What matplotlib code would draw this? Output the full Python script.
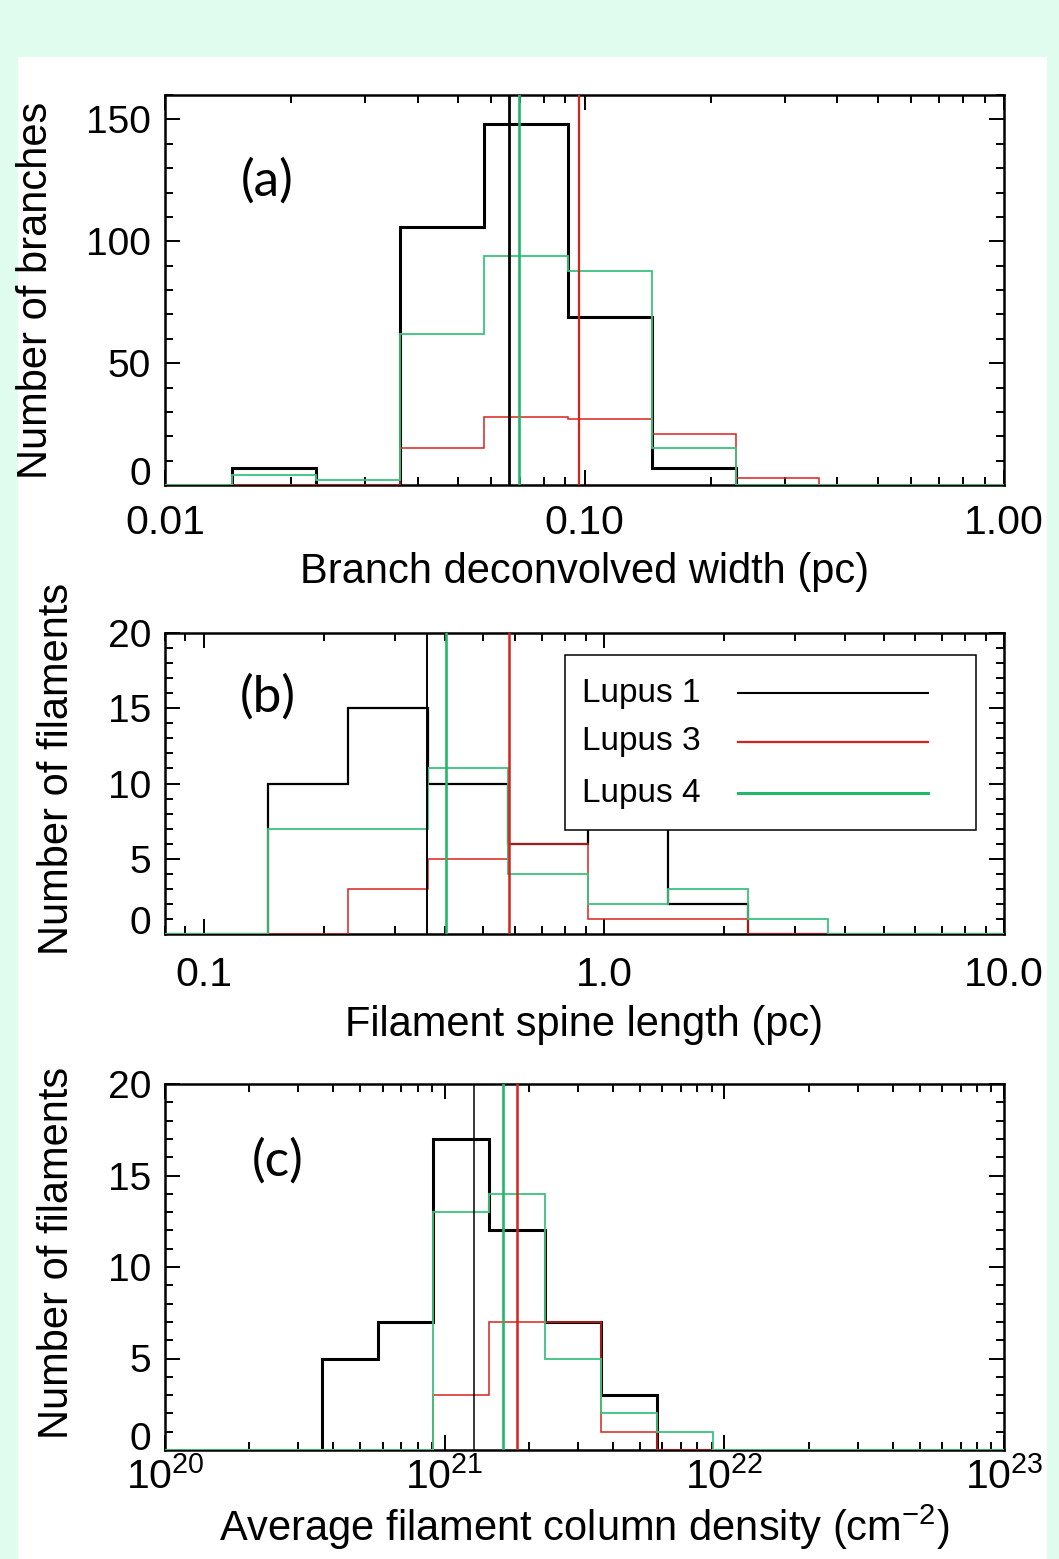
import numpy as np
import matplotlib
matplotlib.use("Agg")
import matplotlib.pyplot as plt
from matplotlib.ticker import FixedLocator, FixedFormatter, LogLocator, NullFormatter, MultipleLocator
from matplotlib.patches import Rectangle

plt.rcParams['font.family'] = ['Liberation Sans', 'DejaVu Sans']
plt.rcParams['mathtext.default'] = 'regular'

# ---------------- data ----------------
series_names = ["Lupus 1", "Lupus 3", "Lupus 4"]

# (a) branch deconvolved width (pc): log10 bin edges and counts
a_edges_log = [-1.84, -1.64, -1.44, -1.24, -1.04, -0.84, -0.64, -0.44]
a_lupus1 = [7, 0, 106, 148, 69, 7, 0]
a_lupus3 = [0, 0, 15, 28, 27, 21, 3]
a_lupus4 = [4, 2, 62, 94, 88, 15, 0]
a_medians = [0.066, 0.097, 0.0697]
a_yticks = [0, 50, 100, 150]

# (b) filament spine length (pc)
b_edges_log = [-0.84, -0.64, -0.44, -0.24, -0.04, 0.16, 0.36, 0.56]
b_lupus1 = [10, 15, 10, 6, 8, 2, 0]
b_lupus3 = [0, 3, 5, 6, 1, 1, 0]
b_lupus4 = [7, 7, 11, 4, 2, 3, 1]
b_medians = [0.361, 0.579, 0.404]
b_yticks = [0, 5, 10, 15, 20]

# (c) average filament column density (cm^-2)
c_edges_log = [20.56, 20.76, 20.96, 21.16, 21.36, 21.56, 21.76, 21.96]
c_lupus1 = [5, 7, 17, 12, 7, 3, 0]
c_lupus3 = [0, 0, 3, 7, 7, 1, 0]
c_lupus4 = [0, 0, 13, 14, 5, 2, 1]
c_medians = [1.27e21, 1.82e21, 1.62e21]
c_yticks = [0, 5, 10, 15, 20]

a_xticklabels = ["0.01", "0.10", "1.00"]
b_xticklabels = ["0.1", "1.0", "10.0"]
c_xticklabels = [r"$10^{20}$", r"$10^{21}$", r"$10^{22}$", r"$10^{23}$"]

# ---------------- style ----------------
BLACK = "#000000"
RED = "#d8231d"
GREEN_H = "#3cc27e"
GREEN_V = "#22b86a"
W, H = 1059, 1559
FS_LAB = 30
FS_TX = 29.5
FS_TY = 28

fig = plt.figure(figsize=(W / 100, H / 100), dpi=100)
fig.patch.set_facecolor("#e0fcef")
fig.patches.append(Rectangle((18 / W, 0), (1047 - 18) / W, (H - 57) / H,
                             transform=fig.transFigure, facecolor="white",
                             edgecolor="none", zorder=-10))


def px_axes(left, top, right, bottom):
    return fig.add_axes([left / W, (H - bottom) / H, (right - left) / W, (bottom - top) / H])


def stairs(ax, edges_log, counts, xlim, color, lw, zorder):
    edges = [xlim[0]] + list(10.0 ** np.array(edges_log)) + [xlim[1]]
    vals = [0] + list(counts) + [0]
    ax.stairs(vals, edges, baseline=None, color=color, lw=lw, zorder=zorder)


def style_axes(ax, xlim, ylim, xmajor, xlabels, yticks, yminor, xpad):
    ax.set_xscale("log")
    ax.set_xlim(*xlim)
    ax.set_ylim(*ylim)
    ax.xaxis.set_major_locator(FixedLocator(xmajor))
    ax.xaxis.set_major_formatter(FixedFormatter(xlabels))
    ax.xaxis.set_minor_locator(LogLocator(base=10, subs=np.arange(2, 10), numticks=20))
    ax.xaxis.set_minor_formatter(NullFormatter())
    ax.yaxis.set_major_locator(FixedLocator(yticks))
    ax.yaxis.set_minor_locator(MultipleLocator(yminor))
    ax.tick_params(which="both", direction="in", top=True, right=True, width=1.4)
    ax.tick_params(which="major", length=11)
    ax.tick_params(which="minor", length=5.5)
    ax.tick_params(axis="x", which="major", labelsize=FS_TX, pad=xpad)
    ax.tick_params(axis="y", which="major", labelsize=FS_TY, pad=10)
    for s in ax.spines.values():
        s.set_linewidth(1.8)


def draw_panel(ax, edges_log, l1, l3, l4, meds, xlim, lw_black, vlw):
    stairs(ax, edges_log, l1, xlim, BLACK, lw_black, 3)
    stairs(ax, edges_log, l3, xlim, RED, 1.1, 4)
    stairs(ax, edges_log, l4, xlim, GREEN_H, 1.3, 5)
    ax.axvline(meds[0], color=BLACK, lw=vlw[0], zorder=6)
    ax.axvline(meds[1], color=RED, lw=vlw[1], zorder=6)
    ax.axvline(meds[2], color=GREEN_V, lw=vlw[2], zorder=6)


PANEL_FONT = dict(fontsize=37, family=["Lato", "DejaVu Sans"], fontweight="normal",
                  ha="center", va="center")

# ---------- panel (a) ----------
axa = px_axes(165, 95, 1004, 485)
xl = (0.01, 1.0)
draw_panel(axa, a_edges_log, a_lupus1, a_lupus3, a_lupus4, a_medians, xl, 2.2, (2.0, 1.6, 1.9))
style_axes(axa, xl, (0, 160), [0.01, 0.1, 1.0], a_xticklabels, a_yticks, 10, 14)
axa.set_xlabel("Branch deconvolved width (pc)", fontsize=FS_LAB, labelpad=7)
axa.set_ylabel("Number of branches", fontsize=FS_LAB, labelpad=22)
axa.text(0.122, 0.78, "(a)", transform=axa.transAxes, **PANEL_FONT)

# ---------- panel (b) ----------
axb = px_axes(165, 633, 1004, 934)
xl = (0.08, 10.0)
draw_panel(axb, b_edges_log, b_lupus1, b_lupus3, b_lupus4, b_medians, xl, 1.6, (1.4, 1.8, 1.9))
style_axes(axb, xl, (0, 20), [0.1, 1.0, 10.0], b_xticklabels, b_yticks, 1, 16)
axb.set_xlabel("Filament spine length (pc)", fontsize=FS_LAB, labelpad=8)
axb.set_ylabel("Number of filaments", fontsize=FS_LAB, labelpad=22)
axb.yaxis.label.set_y(0.55)
axb.text(0.122, 0.785, "(b)", transform=axb.transAxes, **PANEL_FONT)

# legend (drawn as a box with text and sample lines)
axb.add_patch(Rectangle((0.4768, 0.3455), 0.4898, 0.5815, transform=axb.transAxes,
                        facecolor="white", edgecolor="black", lw=1.1, zorder=7))
leg_colors = [BLACK, RED, GREEN_V]
leg_lw = [1.5, 1.6, 2.2]
leg_y = [0.80, 0.638, 0.468]
for name, c, lw, yy in zip(series_names, leg_colors, leg_lw, leg_y):
    axb.text(0.497, yy, name, transform=axb.transAxes, fontsize=24,
             ha="left", va="center", zorder=8)
    axb.plot([0.683, 0.909], [yy, yy], transform=axb.transAxes, color=c, lw=lw, zorder=8)

# ---------- panel (c) ----------
axc = px_axes(165, 1084, 1004, 1450)
xl = (1e20, 1e23)
draw_panel(axc, c_edges_log, c_lupus1, c_lupus3, c_lupus4, c_medians, xl, 2.2, (1.1, 1.8, 1.9))
style_axes(axc, xl, (0, 20), [1e20, 1e21, 1e22, 1e23], c_xticklabels, c_yticks, 1, 5)
axc.set_xlabel(r"Average filament column density (cm$^{-2}$)", fontsize=FS_LAB, labelpad=4)
axc.set_ylabel("Number of filaments", fontsize=FS_LAB, labelpad=22)
axc.yaxis.label.set_y(0.538)
axc.text(0.134, 0.79, "(c)", transform=axc.transAxes, **PANEL_FONT)

# IDL-style: raise the "0" y tick label so it clears the x tick labels
fig.canvas.draw()
for ax in (axa, axb, axc):
    for tk in ax.yaxis.get_major_ticks():
        if tk.get_loc() == 0:
            tk.label1.set_verticalalignment("baseline")

fig.savefig("out.png", dpi=100, facecolor=fig.get_facecolor())
